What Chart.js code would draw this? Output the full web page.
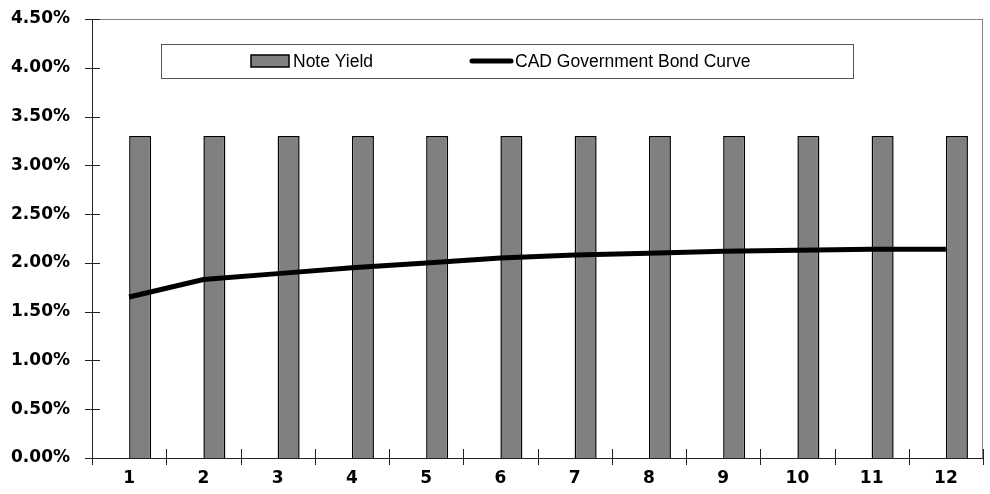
<!DOCTYPE html>
<html>
<head>
<meta charset="utf-8">
<script src="https://cdn.jsdelivr.net/npm/chart.js@4.4.1/dist/chart.umd.min.js"></script>
<style>
  html, body { margin: 0; padding: 0; background: #fff; }
  #wrap { width: 990px; height: 494px; }
</style>
</head>
<body>
<div id="wrap"><canvas id="yieldChart" width="990" height="494"></canvas></div>
<script>
const years = ['1', '2', '3', '4', '5', '6', '7', '8', '9', '10', '11', '12'];
const noteYield = [3.30, 3.30, 3.30, 3.30, 3.30, 3.30, 3.30, 3.30, 3.30, 3.30, 3.30, 3.30];
const bondCurve = [1.65, 1.83, 1.89, 1.95, 2.00, 2.05, 2.08, 2.10, 2.12, 2.13, 2.14, 2.14];
const yTicks = [0, 0.5, 1, 1.5, 2, 2.5, 3, 3.5, 4, 4.5];

const tickFont = { family: 'DejaVu Sans', size: 17, weight: 'bold' };

// box around plot + tick marks that cross the axes + legend inside plot
const frameAndLegend = {
  id: 'frameAndLegend',
  afterDraw(chart) {
    const { ctx, chartArea: ca, scales } = chart;
    ctx.save();
    ctx.strokeStyle = '#808080';
    ctx.lineWidth = 1;
    ctx.strokeRect(ca.left + 0.5, ca.top + 0.5, ca.right - ca.left - 1, ca.bottom - ca.top);

    ctx.strokeStyle = '#222';
    ctx.beginPath();
    ctx.moveTo(ca.left + 0.5, ca.top);
    ctx.lineTo(ca.left + 0.5, ca.bottom + 0.5);
    ctx.lineTo(ca.right, ca.bottom + 0.5);
    yTicks.forEach(v => {
      const y = Math.round(scales.y.getPixelForValue(v)) + 0.5;
      ctx.moveTo(ca.left - 7, y);
      ctx.lineTo(ca.left + 8, y);
    });
    const half = (scales.x.getPixelForValue(1) - scales.x.getPixelForValue(0)) / 2;
    for (let i = 0; i <= years.length; i++) {
      const x = Math.round(scales.x.getPixelForValue(i) - half) + 0.5;
      ctx.moveTo(x, ca.bottom - 9);
      ctx.lineTo(x, ca.bottom + 7);
    }
    ctx.stroke();

    // legend
    const bx = ca.left + 69, by = ca.top + 25, bw = 692, bh = 34;
    ctx.fillStyle = '#fff';
    ctx.fillRect(bx, by, bw, bh);
    ctx.strokeStyle = '#555';
    ctx.strokeRect(bx + 0.5, by + 0.5, bw, bh);
    const cy = by + bh / 2;
    const lineDs = chart.data.datasets[0];
    const barDs = chart.data.datasets[2];
    ctx.fillStyle = '#808080';
    ctx.fillRect(bx + 90, cy - 6, 38, 12);
    ctx.strokeStyle = '#000';
    ctx.lineWidth = 1.5;
    ctx.strokeRect(bx + 90, cy - 6, 38, 12);
    ctx.lineWidth = 5;
    ctx.lineCap = 'round';
    ctx.beginPath();
    ctx.moveTo(bx + 311, cy);
    ctx.lineTo(bx + 350, cy);
    ctx.stroke();
    ctx.fillStyle = '#000';
    ctx.font = '17.5px "Liberation Sans"';
    ctx.textBaseline = 'middle';
    ctx.fillText(barDs.label, bx + 132, cy + 1);
    ctx.fillText(lineDs.label, bx + 354, cy + 1);
    ctx.restore();
  }
};

new Chart(document.getElementById('yieldChart'), {
  type: 'bar',
  data: {
    labels: years,
    datasets: [
      {
        type: 'line',
        label: 'CAD Government Bond Curve',
        data: bondCurve,
        borderColor: '#000',
        borderWidth: 5,
        pointRadius: 0,
        tension: 0,
        order: 0
      },
      {
        // empty slot so the note bars sit right of the category centre
        type: 'bar',
        label: '',
        data: [],
        categoryPercentage: 0.593,
        barPercentage: 1,
        order: 1
      },
      {
        type: 'bar',
        label: 'Note Yield',
        data: noteYield,
        backgroundColor: '#808080',
        borderColor: '#000',
        borderWidth: 1.5,
        categoryPercentage: 0.593,
        barPercentage: 1,
        order: 2
      }
    ]
  },
  plugins: [frameAndLegend],
  options: {
    responsive: false,
    animation: false,
    layout: { padding: { top: 19, right: 7, left: 0, bottom: 0 } },
    scales: {
      x: {
        offset: true,
        grid: { display: false },
        border: { display: false },
        ticks: { color: '#000', font: tickFont, padding: 2, maxRotation: 0 },
        afterFit(scale) { scale.height = 36; }
      },
      y: {
        min: 0,
        max: 4.5,
        grid: { display: false },
        border: { display: false },
        ticks: {
          stepSize: 0.5,
          color: '#000',
          font: tickFont,
          padding: 14,
          callback: v => v.toFixed(2) + '%'
        },
        afterFit(scale) {
          scale.width = 92;
          scale.paddingTop = 0;
          scale.paddingBottom = 0;
        }
      }
    },
    plugins: {
      legend: { display: false },
      tooltip: { enabled: false }
    }
  }
});
</script>
</body>
</html>
